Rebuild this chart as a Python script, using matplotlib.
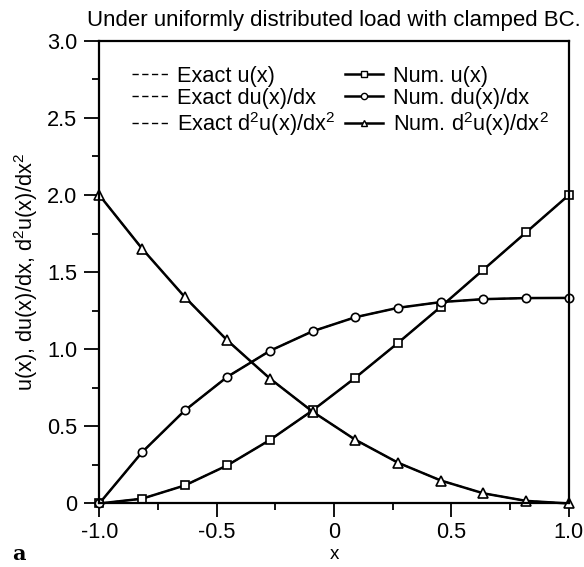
import matplotlib
matplotlib.use("Agg")
import matplotlib.pyplot as plt
from matplotlib.ticker import MultipleLocator
from matplotlib.lines import Line2D

#====================== data ======================

x = [-1.0, -0.818, -0.636, -0.455, -0.273, -0.091,
     0.091, 0.273, 0.455, 0.636, 0.818, 1.0]

u = [0.0, 0.031, 0.117, 0.247, 0.412, 0.604,
     0.816, 1.042, 1.276, 1.516, 1.758, 2.0]

du = [0.0, 0.332, 0.603, 0.821, 0.990, 1.117,
      1.208, 1.269, 1.306, 1.325, 1.332, 1.333]

d2u = [2.0, 1.653, 1.339, 1.058, 0.810, 0.595,
       0.413, 0.264, 0.149, 0.066, 0.017, 0.0]

xticks = [-1.0, -0.5, 0.0, 0.5, 1.0]
xticklabels = ["-1.0", "-0.5", "0", "0.5", "1.0"]
yticks = [0.0, 0.5, 1.0, 1.5, 2.0, 2.5, 3.0]
yticklabels = ["0", "0.5", "1.0", "1.5", "2.0", "2.5", "3.0"]

exact_labels = ["Exact u(x)", "Exact du(x)/dx", "Exact d$^2$u(x)/dx$^2$"]
num_labels = ["Num. u(x)", "Num. du(x)/dx", "Num. d$^2$u(x)/dx$^2$"]

#============================== plotting ===============================

plt.rcParams["font.family"] = ["Liberation Sans", "DejaVu Sans"]
plt.rcParams["mathtext.fontset"] = "custom"
plt.rcParams["mathtext.rm"] = "Liberation Sans"
plt.rcParams["mathtext.it"] = "Liberation Sans"
plt.rcParams["mathtext.default"] = "regular"

fig = plt.figure(figsize=(5.84, 5.67), dpi=100)
ax = fig.add_axes([0.170, 0.112, 0.804, 0.816])

fs = 15.7
dash = (0, (4.5, 2.5))

# exact solutions (dashed) sit under the numerical ones
for yy in (u, du, d2u):
    ax.plot(x, yy, color="k", ls=dash, lw=1.2)

ax.plot(x, u, "k-", lw=1.8, marker="s", ms=6, mfc="white", mec="k", mew=1.2)
ax.plot(x, du, "k-", lw=1.8, marker="o", ms=6, mfc="white", mec="k", mew=1.2)
ax.plot(x, d2u, "k-", lw=1.8, marker="^", ms=6.5, mfc="white", mec="k", mew=1.2)

ax.set_xlim(-1, 1)
ax.set_ylim(0, 3)
ax.set_xticks(xticks)
ax.set_xticklabels(xticklabels)
ax.set_yticks(yticks)
ax.set_yticklabels(yticklabels)
ax.xaxis.set_minor_locator(MultipleLocator(0.25))
ax.yaxis.set_minor_locator(MultipleLocator(0.25))
ax.tick_params(which="major", direction="out", length=10.5, width=1.3,
               labelsize=fs, pad=5.5)
ax.tick_params(axis="x", which="major", length=10, pad=3)
ax.tick_params(which="minor", direction="out", length=5, width=1.3)
for s in ax.spines.values():
    s.set_linewidth(1.6)
for ln in ax.lines:
    ln.set_clip_on(False)

ax.set_xlabel("x", fontsize=13.5)
ax.xaxis.set_label_coords(0.5, -0.0925)
ax.set_ylabel("u(x), du(x)/dx, d$^2$u(x)/dx$^2$", fontsize=fs, labelpad=5)
ax.set_title("Under uniformly distributed load with clamped BC.",
             fontsize=16, pad=11)

# legend in two blocks, no frame
h_exact = [Line2D([], [], color="k", ls=dash, lw=1.0) for _ in range(3)]
leg1 = ax.legend(h_exact, exact_labels,
                 loc="upper left", bbox_to_anchor=(0.051, 0.965),
                 frameon=False, fontsize=fs, handlelength=1.7,
                 handletextpad=0.35, labelspacing=0.05, borderaxespad=0)
ax.add_artist(leg1)
h_num = [Line2D([], [], color="k", lw=1.8, marker=m, ms=ms, mfc="white",
                mec="k", mew=1.0)
         for m, ms in (("s", 4.5), ("o", 4.5), ("^", 5))]
ax.legend(h_num, num_labels,
          loc="upper left", bbox_to_anchor=(0.505, 0.965),
          frameon=False, fontsize=fs, handlelength=1.75,
          handletextpad=0.45, labelspacing=0.05, borderaxespad=0)

fig.text(0.02, 0.012, "a", fontsize=15, fontweight="bold", family="serif")

fig.savefig("out.png", dpi=100)
